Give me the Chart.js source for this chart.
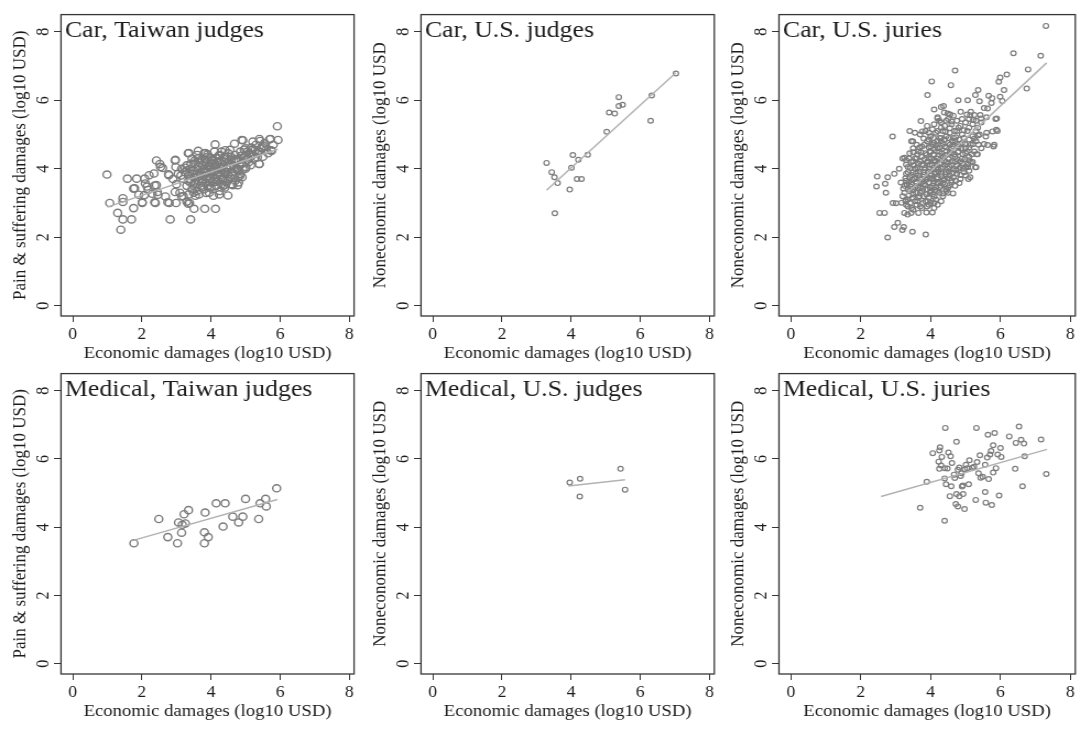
<!DOCTYPE html>
<html>
<head>
<meta charset="utf-8">
<title>Economic vs noneconomic damages</title>
<script src="https://cdn.jsdelivr.net/npm/chart.js@4.4.1/dist/chart.umd.min.js"></script>
<style>
  html, body { margin: 0; padding: 0; background: #fff; }
  #page { position: relative; width: 1081px; height: 729px; overflow: hidden; background: #fff; }
  .panel { position: absolute; transform-origin: 0 0; }
</style>
</head>
<body>
<div id="page"></div>
<script>
// ---- data (log10 USD) ----
const tickValues = [0, 2, 4, 6, 8];
const xAxisTitle = 'Economic damages (log10 USD)';

const carTaiwanJudges = [
  [0.99,3.83],[1.07,3.00],[1.30,2.71],[1.45,3.14],[1.45,3.03],[1.39,2.22],[1.45,2.52],[1.70,2.52],
  [1.76,2.85],[1.58,3.71],[1.85,3.71],[1.79,3.43],[2.01,3.00],[2.08,3.71],[2.21,3.81],[2.15,3.48],
  [1.91,3.24],[2.30,3.27],[2.39,3.00],[2.42,4.24],[2.52,4.14],[2.60,4.02],[2.42,3.52],[2.46,3.24],
  [2.68,3.19],[2.82,2.52],[2.79,3.00],[2.99,3.00],[2.97,4.26],[2.78,3.81],[3.13,3.80],[3.41,2.52],
  [3.38,3.00],[3.51,2.83],[3.82,2.83],[4.13,2.83],[4.49,3.22],[3.36,4.46],[3.63,4.52],[4.12,4.71],
  [4.89,4.84],[5.15,4.60],[5.42,4.81],[5.70,4.86],[5.92,5.24],[5.94,4.84],[5.75,4.52],[5.39,4.14],
  [5.01,4.05],[4.77,3.52],[4.63,3.52],[4.77,3.95],[5.01,4.38],[4.66,4.24],[4.39,3.95],
  [2.10,3.57],[2.37,3.51],[2.07,3.23],[2.37,3.02],[2.75,3.02],[3.30,3.04],[3.15,3.19],[3.36,3.25],
  [3.55,3.21],[3.86,3.29],[4.07,3.21],[4.24,3.25],[4.41,3.53],[3.34,2.98],[2.98,4.05],[3.25,4.03],
  [2.77,3.84],[2.35,3.86],[3.53,4.24],[4.01,4.24],[4.30,4.05],[4.50,3.84],[4.83,3.78],[4.79,3.99],
  [4.73,4.24],[5.06,4.33],[5.34,4.33],[5.40,4.14],[5.74,4.54],[5.53,4.66],[5.17,4.62],[4.96,4.56],
  [4.41,4.54],[3.84,4.46],[3.34,4.45],[4.68,4.73],[4.92,4.83],[5.21,4.79],[5.40,4.87],[5.72,4.87],
  [2.96,4.24],[2.54,4.05],[1.76,3.42],[2.18,3.38],[2.45,3.32],[2.96,3.32],[2.01,3.02],
  [3.20,3.70],[3.25,3.90],[3.30,3.50],[3.30,4.10],[3.35,3.80],[3.40,3.60],[3.40,4.00],[3.45,3.40],
  [3.45,4.30],[3.50,3.75],[3.50,3.95],[3.55,3.55],[3.55,4.15],[3.60,3.35],[3.60,3.85],[3.60,4.40],
  [3.65,3.65],[3.65,4.05],[3.70,3.50],[3.70,3.90],[3.70,4.25],[3.75,3.70],[3.75,4.10],[3.80,3.40],
  [3.80,3.80],[3.80,4.00],[3.80,4.45],[3.85,3.60],[3.85,4.20],[3.90,3.50],[3.90,3.90],[3.90,4.35],
  [3.95,3.70],[3.95,4.10],[4.00,3.45],[4.00,3.85],[4.00,4.00],[4.00,4.30],[4.05,3.60],[4.05,4.15],
  [4.10,3.75],[4.10,3.95],[4.10,4.50],[4.15,3.50],[4.15,4.05],[4.15,4.30],[4.20,3.65],[4.20,3.90],
  [4.20,4.20],[4.25,3.80],[4.25,4.40],[4.30,3.55],[4.30,4.00],[4.30,4.25],[4.35,3.70],[4.35,4.10],
  [4.40,3.85],[4.40,4.35],[4.45,3.60],[4.45,4.00],[4.50,4.20],[4.50,4.45],[4.55,3.75],[4.55,4.05],
  [4.60,3.90],[4.60,4.30],[4.65,4.10],[4.70,3.65],[4.70,4.40],[4.75,4.00],[4.80,4.25],[4.85,3.85],
  [4.85,4.50],[4.90,4.15],[4.95,4.35],[5.00,4.00],[5.00,4.60],[5.05,4.25],[5.10,4.45],[5.15,4.10],
  [5.20,4.55],[5.25,4.30],[5.30,4.70],[5.35,4.45],[5.45,4.60],[5.50,4.35],[5.55,4.75],[5.60,4.55],
  [5.65,4.45],[5.80,4.70],[3.00,3.55],[3.05,3.85],[3.10,3.30],[3.15,4.00],[3.20,3.20],[2.90,3.70],
  [3.50,3.30],[3.65,3.25],[3.95,3.30],[4.25,3.35],[4.40,3.45],[4.60,3.55],[4.80,3.60],[4.90,3.75],
  [3.30,3.95],[3.35,3.65],[3.42,4.15],[3.48,3.85],[3.52,3.60],[3.58,4.00],[3.62,3.75],[3.68,4.18],
  [3.72,3.60],[3.78,3.95],[3.82,4.30],[3.88,3.75],[3.92,4.05],[3.98,3.60],[4.02,3.92],[4.05,4.25],
  [4.08,3.70],[4.12,4.08],[4.18,3.82],[4.22,4.38],[4.28,3.95],[4.32,3.68],[4.38,4.20],[4.42,3.92],
  [4.48,3.70],[4.52,4.10],[4.58,4.35],[4.62,3.80],[4.68,4.05],[4.72,4.28],[4.78,3.75],[4.82,4.10],
  [4.88,4.38],[4.92,3.98],[5.05,4.50],[5.10,4.20],[5.20,4.40],[5.28,4.55],[5.40,4.50],[5.50,4.62],
  [3.75,3.45],[3.95,3.45],[4.15,3.62],[4.35,3.50],[3.55,3.45],[3.40,3.70],[3.62,4.30],[3.90,4.42],
  [4.30,4.50],[4.55,4.55],[4.45,4.30],[4.25,4.05],[4.00,4.15],[3.85,3.90],[3.70,3.80]
];
const carTaiwanJudgesFit = [[1.00,2.88],[5.93,4.57]];

const carUsJudges = [
  [3.29,4.17],[3.44,3.90],[3.52,3.75],[3.61,3.58],[3.53,2.70],[3.96,3.39],[4.01,4.03],[4.05,4.40],
  [4.21,4.26],[4.17,3.70],[4.30,3.70],[4.48,4.41],[5.03,5.08],[5.10,5.64],[5.26,5.61],[5.38,6.09],
  [5.38,5.83],[5.49,5.87],[6.33,6.14],[6.30,5.40],[7.03,6.78]
];
const carUsJudgesFit = [[3.29,3.37],[7.03,6.80]];

const carUsJuries = [
  [7.30,8.17],[6.37,7.37],[7.15,7.30],[6.79,6.90],[4.70,6.87],[4.03,6.55],[4.58,6.44],[3.91,6.15],
  [5.99,6.66],[6.18,6.75],[5.95,6.54],[6.10,6.30],[6.75,6.34],[5.36,6.30],[5.28,6.15],[5.40,5.97],
  [5.06,6.00],[4.79,6.00],[5.76,6.06],[5.99,6.10],[6.05,5.98],[5.63,5.76],[4.30,5.80],[4.39,5.64],
  [4.56,5.58],[4.20,5.47],[3.72,5.39],[4.86,5.66],[5.04,5.58],[5.15,5.66],[5.25,5.57],[5.42,5.57],
  [5.86,5.45],[5.74,5.92],[5.66,6.13],[5.89,5.47],[5.82,4.70],[5.91,5.10],[5.77,5.09],[5.58,4.94],
  [5.53,4.72],[5.34,4.42],[5.37,4.70],[5.30,4.04],[5.08,3.70],[5.10,3.94],[5.28,4.04],[5.06,4.04],
  [5.13,3.75],[5.32,4.42],[5.63,4.69],[5.80,4.65],[5.88,5.14],[5.36,4.97],
  [2.91,4.94],[2.47,3.77],[2.45,3.48],[2.70,3.56],[2.96,3.85],[2.77,3.75],[2.72,3.30],[2.92,3.00],
  [2.54,2.71],[2.68,2.71],[2.96,2.30],[3.06,2.42],[3.19,2.21],[2.77,1.99],[3.48,2.16],[3.86,2.08],
  [3.25,2.71],[3.44,2.71],[3.65,2.71],[3.88,2.72],[4.05,2.72],[3.17,3.01],[3.29,3.09],[4.35,3.28],
  [4.50,3.30],[4.64,3.28],[3.23,2.30],[3.34,2.66],[3.01,2.99],[3.25,4.32],[3.49,4.80],[3.76,5.09],
  [4.10,5.73],[4.37,5.83],[4.49,5.61],[5.13,5.56],[5.22,5.42],[5.53,5.77],[5.44,5.47],
  [3.30,2.95],[3.45,2.85],[3.60,2.95],[3.75,2.85],[3.90,2.90],[4.00,3.00],[4.10,2.85],[3.55,3.05],
  [3.85,3.05],[3.20,3.20],[3.35,3.10],[3.50,3.25],[3.65,3.15],[3.70,3.30],[3.80,3.20],[3.95,3.15],
  [4.05,3.25],[4.15,3.10],[4.25,3.30],[3.40,3.35],[4.00,3.35],[3.25,3.50],[3.35,3.40],[3.45,3.55],
  [3.55,3.45],[3.60,3.60],[3.70,3.45],[3.80,3.55],[3.90,3.40],[3.95,3.60],[4.05,3.50],[4.15,3.45],
  [4.20,3.60],[4.30,3.50],[4.40,3.55],[4.50,3.45],[3.30,3.65],[4.60,3.60],[3.30,3.85],[3.40,3.75],
  [3.50,3.90],[3.55,3.70],[3.65,3.80],[3.75,3.70],[3.80,3.90],[3.90,3.75],[4.00,3.85],[4.05,3.70],
  [4.15,3.90],[4.20,3.75],[4.30,3.85],[4.40,3.70],[4.45,3.90],[4.55,3.80],[4.65,3.75],[4.75,3.85],
  [4.85,3.70],[4.95,3.90],[3.35,4.05],[3.45,4.20],[3.55,4.00],[3.65,4.15],[3.70,4.00],[3.80,4.10],
  [3.90,4.20],[3.95,4.00],[4.05,4.10],[4.10,4.25],[4.20,4.00],[4.25,4.15],[4.35,4.05],[4.45,4.20],
  [4.50,4.00],[4.60,4.10],[4.70,4.20],[4.80,4.00],[4.90,4.15],[5.00,4.05],[5.15,4.20],[3.40,4.45],
  [3.55,4.30],[3.65,4.50],[3.75,4.35],[3.85,4.45],[3.95,4.30],[4.00,4.50],[4.10,4.40],[4.20,4.30],
  [4.25,4.50],[4.35,4.35],[4.45,4.50],[4.50,4.30],[4.60,4.45],[4.70,4.35],[4.80,4.50],[4.90,4.30],
  [5.00,4.45],[5.10,4.35],[5.25,4.50],[3.60,4.70],[3.75,4.65],[3.90,4.80],[4.00,4.65],[4.10,4.75],
  [4.20,4.60],[4.30,4.80],[4.40,4.65],[4.50,4.75],[4.60,4.60],[4.70,4.80],[4.80,4.65],[4.90,4.75],
  [5.00,4.60],[5.15,4.70],[3.50,4.60],[3.70,5.00],[3.85,5.10],[4.00,4.95],[4.15,5.05],[4.25,4.90],
  [4.35,5.10],[4.45,4.95],[4.55,5.05],[4.65,4.90],[4.75,5.10],[4.90,5.00],[5.05,5.10],[5.20,4.95],
  [3.55,5.05],[3.90,5.25],[4.10,5.30],[4.25,5.40],[4.40,5.25],[4.50,5.45],[4.60,5.30],[4.75,5.40],
  [4.85,5.25],[5.00,5.35],[5.20,5.30],[5.35,5.20],[4.20,5.50],[4.65,5.55],[3.15,3.60],[3.10,4.00],
  [3.20,4.30],[3.30,4.25],[3.45,4.80],[3.40,5.10],[5.40,5.00],[5.45,5.35],[5.60,5.50],[5.60,5.05],
  [5.30,4.80],[5.45,4.60],[5.20,4.20],
  [3.35,2.90],[3.50,2.80],[3.70,2.90],[3.95,2.95],[4.20,2.95],[3.28,3.05],[3.42,3.00],[3.62,3.05],
  [3.78,3.00],[3.92,3.05],[4.10,3.00],[4.30,3.05],[3.25,3.30],[3.38,3.22],[3.48,3.15],[3.58,3.30],
  [3.68,3.20],[3.75,3.35],[3.88,3.25],[3.98,3.30],[4.10,3.18],[4.18,3.35],[4.35,3.20],[4.45,3.35],
  [3.22,3.42],[3.32,3.55],[3.42,3.48],[3.50,3.38],[3.62,3.50],[3.72,3.58],[3.78,3.42],[3.85,3.52],
  [3.98,3.45],[4.08,3.58],[4.12,3.38],[4.25,3.45],[4.35,3.58],[4.45,3.40],[4.55,3.52],[4.70,3.50],
  [3.28,3.72],[3.38,3.62],[3.48,3.68],[3.58,3.62],[3.68,3.72],[3.78,3.62],[3.88,3.68],[3.98,3.72],
  [4.08,3.64],[4.18,3.70],[4.28,3.62],[4.38,3.66],[4.48,3.72],[4.60,3.66],[4.72,3.65],[4.82,3.58],
  [3.35,3.90],[3.45,3.82],[3.58,3.86],[3.70,3.92],[3.82,3.82],[3.92,3.92],[4.02,3.80],[4.12,3.85],
  [4.22,3.92],[4.32,3.78],[4.42,3.84],[4.52,3.92],[4.62,3.86],[4.72,3.95],[4.85,3.82],[5.00,3.80],
  [3.30,4.12],[3.42,4.02],[3.52,4.10],[3.62,4.04],[3.75,4.12],[3.85,4.02],[3.98,4.12],[4.08,4.02],
  [4.18,4.10],[4.30,4.00],[4.40,4.12],[4.55,4.05],[4.65,4.00],[4.75,4.10],[4.85,4.05],[4.95,4.00],
  [5.08,4.12],[3.38,4.30],[3.50,4.22],[3.60,4.30],[3.70,4.22],[3.82,4.28],[3.92,4.22],[4.02,4.30],
  [4.15,4.22],[4.28,4.28],[4.38,4.22],[4.52,4.28],[4.62,4.22],[4.75,4.28],[4.85,4.22],[4.98,4.28],
  [5.10,4.25],[3.50,4.48],[3.62,4.42],[3.72,4.48],[3.88,4.40],[3.98,4.48],[4.08,4.42],[4.18,4.50],
  [4.32,4.45],[4.42,4.40],[4.55,4.48],[4.68,4.42],[4.78,4.48],[4.92,4.42],[5.05,4.50],[5.18,4.42],
  [3.68,4.62],[3.82,4.70],[3.95,4.62],[4.05,4.70],[4.15,4.68],[4.25,4.62],[4.35,4.72],[4.45,4.62],
  [4.55,4.70],[4.65,4.65],[4.75,4.72],[4.88,4.60],[4.98,4.72],[5.10,4.62],[5.22,4.72],[3.80,4.88],
  [3.95,4.85],[4.08,4.90],[4.20,4.82],[4.30,4.90],[4.40,4.85],[4.52,4.90],[4.62,4.82],[4.72,4.92],
  [4.82,4.85],[4.95,4.90],[5.10,4.85],[5.25,4.88],[3.95,5.05],[4.05,5.15],[4.20,5.10],[4.30,5.20],
  [4.42,5.08],[4.55,5.18],[4.68,5.10],[4.80,5.20],[4.95,5.12],[5.10,5.20],[5.30,5.10],[4.30,5.35],
  [4.45,5.40],[4.60,5.38],[4.90,5.45],[5.10,5.45],[5.30,5.40]
];
const carUsJuriesFit = [[3.28,3.25],[7.32,7.09]];

const medTaiwanJudges = [
  [1.77,3.53],[2.49,4.24],[2.75,3.71],[3.03,3.53],[3.06,4.14],[3.15,3.84],[3.17,4.07],[3.22,4.38],
  [3.26,4.11],[3.35,4.50],[3.83,4.43],[3.81,3.85],[3.81,3.53],[3.92,3.71],[4.15,4.70],[4.41,4.70],
  [4.35,4.02],[4.63,4.31],[4.80,4.14],[4.92,4.31],[5.00,4.83],[5.38,4.24],[5.42,4.70],[5.58,4.83],
  [5.60,4.61],[5.90,5.14]
];
const medTaiwanJudgesFit = [[1.70,3.60],[5.92,4.81]];

const medUsJudges = [[3.96,5.31],[4.26,5.42],[4.25,4.90],[5.43,5.71],[5.56,5.10]];
const medUsJudgesFit = [[3.92,5.21],[5.56,5.39]];

const medUsJuries = [
  [4.42,6.91],[5.31,6.91],[5.64,6.71],[5.83,6.76],[6.53,6.95],[4.74,6.50],[6.25,6.66],[6.44,6.47],
  [6.59,6.56],[6.67,6.45],[7.16,6.57],[4.27,6.34],[4.25,6.25],[4.06,6.17],[4.51,6.19],[4.57,6.08],
  [4.32,6.06],[4.23,5.92],[4.30,5.81],[4.25,5.71],[4.40,5.73],[4.61,5.88],[4.82,5.75],[4.78,5.68],
  [5.01,5.83],[5.11,5.96],[5.05,5.73],[5.24,5.77],[5.41,6.11],[5.62,6.04],[5.73,6.23],[5.79,6.40],
  [6.00,6.32],[6.02,6.06],[5.92,6.13],[5.70,6.13],[5.56,5.83],[5.87,5.73],[5.79,5.60],[6.42,5.71],
  [6.69,6.08],[7.31,5.56],[6.63,5.20],[3.89,5.33],[4.40,5.43],[4.44,5.26],[4.59,5.20],[4.67,5.54],
  [4.69,5.44],[4.88,5.58],[4.92,5.22],[5.09,5.26],[5.37,5.58],[5.43,5.45],[5.49,5.48],[5.66,5.41],
  [5.56,5.03],[5.96,4.93],[4.55,4.91],[4.74,4.97],[4.82,4.91],[4.93,4.97],[5.29,4.80],[5.58,4.72],
  [5.75,4.65],[4.72,4.68],[4.78,4.61],[4.97,4.53],[3.70,4.57],[4.40,4.19],[4.48,5.72],[4.98,5.70],
  [5.19,5.74],[5.33,5.91],[4.86,5.50],[4.90,5.19]
];
const medUsJuriesFit = [[2.58,4.90],[7.33,6.28]];

// ---- look ----
const SERIF = '"Liberation Serif", "Times New Roman", serif';
const TEXT = '#1c1c1c';
const AXIS = '#363636';
const MARK = '#7c7c7c';
const FIT = '#b2b2b2';

// the source picture is slightly wider than tall, so each canvas is
// drawn narrow and stretched horizontally by CSS
const STRETCH = 1.1;

const panels = [
  { title: 'Car, Taiwan judges', yTitle: 'Pain & suffering damages (log10 USD)', points: carTaiwanJudges, fit: carTaiwanJudgesFit, r: 3.6, bw: 1.4,
    left: 0, top: 0, width: 360, height: 365, plotRight: 358, plotBottom: 316 },
  { title: 'Car, U.S. judges', yTitle: 'Noneconomic damages (log10 USD', points: carUsJudges, fit: carUsJudgesFit, r: 2.4, bw: 1.2,
    left: 360, top: 0, width: 360, height: 365, plotRight: 358, plotBottom: 316 },
  { title: 'Car, U.S. juries', yTitle: 'Noneconomic damages (log10 USD', points: carUsJuries, fit: carUsJuriesFit, r: 2.4, bw: 1.2,
    left: 718, top: 0, width: 363, height: 365, plotRight: 359, plotBottom: 316 },
  { title: 'Medical, Taiwan judges', yTitle: 'Pain & suffering damages (log10 USD)', points: medTaiwanJudges, fit: medTaiwanJudgesFit, r: 3.6, bw: 1.4,
    left: 0, top: 359, width: 360, height: 370, plotRight: 358, plotBottom: 315 },
  { title: 'Medical, U.S. judges', yTitle: 'Noneconomic damages (log10 USD', points: medUsJudges, fit: medUsJudgesFit, r: 2.4, bw: 1.2,
    left: 360, top: 359, width: 360, height: 370, plotRight: 358, plotBottom: 315 },
  { title: 'Medical, U.S. juries', yTitle: 'Noneconomic damages (log10 USD', points: medUsJuries, fit: medUsJuriesFit, r: 2.4, bw: 1.2,
    left: 718, top: 359, width: 363, height: 370, plotRight: 359, plotBottom: 315 }
];

// frame around the plot region plus the panel title inside it
const panelFrame = {
  id: 'panelFrame',
  afterDraw(chart, args, opts) {
    const { ctx, chartArea: a } = chart;
    ctx.save();
    ctx.strokeStyle = AXIS;
    ctx.lineWidth = 1.3;
    ctx.strokeRect(a.left, a.top, a.right - a.left, a.bottom - a.top);
    ctx.fillStyle = TEXT;
    ctx.font = '23.5px ' + SERIF;
    ctx.textAlign = 'left';
    ctx.textBaseline = 'alphabetic';
    ctx.fillText(opts.text, a.left + 3.5, a.top + 22.5);
    ctx.restore();
  }
};

function buildPanel(p) {
  const page = document.getElementById('page');
  const canvasWidth = Math.round(p.width / STRETCH);
  const k = p.width / canvasWidth;

  const canvas = document.createElement('canvas');
  canvas.className = 'panel';
  canvas.width = canvasWidth;
  canvas.height = p.height;
  canvas.style.width = canvasWidth + 'px';
  canvas.style.height = p.height + 'px';
  canvas.style.left = p.left + 'px';
  canvas.style.top = p.top + 'px';
  canvas.style.transform = 'scaleX(' + k + ')';
  page.appendChild(canvas);

  const yAxisWidth = 61 / k;
  const xAxisHeight = 49;
  const fixTicks = scale => { scale.ticks = tickValues.map(v => ({ value: v })); };

  return new Chart(canvas, {
    type: 'scatter',
    data: {
      datasets: [
        {
          type: 'line',
          data: p.fit.map(([x, y]) => ({ x, y })),
          borderColor: FIT,
          borderWidth: 1.5,
          pointRadius: 0,
          fill: false,
          order: 0
        },
        {
          data: p.points.map(([x, y]) => ({ x, y })),
          pointStyle: 'circle',
          pointRadius: p.r,
          pointBorderWidth: p.bw,
          pointBorderColor: MARK,
          pointBackgroundColor: 'rgba(0,0,0,0)',
          order: 1
        }
      ]
    },
    options: {
      responsive: false,
      animation: false,
      events: [],
      layout: {
        padding: {
          left: 0,
          right: (p.width - p.plotRight) / k,
          top: 7,
          bottom: p.height - p.plotBottom - xAxisHeight
        }
      },
      plugins: {
        legend: { display: false },
        tooltip: { enabled: false },
        panelFrame: { text: p.title }
      },
      scales: {
        x: {
          type: 'linear',
          min: -0.34,
          max: 8.14,
          afterBuildTicks: fixTicks,
          afterFit: scale => { scale.height = xAxisHeight; },
          border: { display: false },
          grid: { drawOnChartArea: false, drawTicks: true, tickLength: 6, color: AXIS, lineWidth: 1 },
          ticks: { padding: 3, maxRotation: 0, autoSkip: false, color: TEXT, font: { family: SERIF, size: 16 } },
          title: { display: true, text: xAxisTitle, color: TEXT, font: { family: SERIF, size: 17 }, padding: { top: 0, bottom: 1 } }
        },
        y: {
          type: 'linear',
          min: -0.3,
          max: 8.5,
          afterBuildTicks: fixTicks,
          afterFit: scale => { scale.width = yAxisWidth; },
          border: { display: false },
          grid: { drawOnChartArea: false, drawTicks: true, tickLength: 7 / k, color: AXIS, lineWidth: 1 },
          ticks: { minRotation: 90, maxRotation: 90, crossAlign: 'center', padding: 5, autoSkip: false, color: TEXT, font: { family: SERIF, size: 16 } },
          title: { display: true, text: p.yTitle, color: TEXT, font: { family: SERIF, size: 17 }, padding: { top: 8, bottom: 0 } }
        }
      }
    },
    plugins: [panelFrame]
  });
}

panels.forEach(buildPanel);
</script>
</body>
</html>
